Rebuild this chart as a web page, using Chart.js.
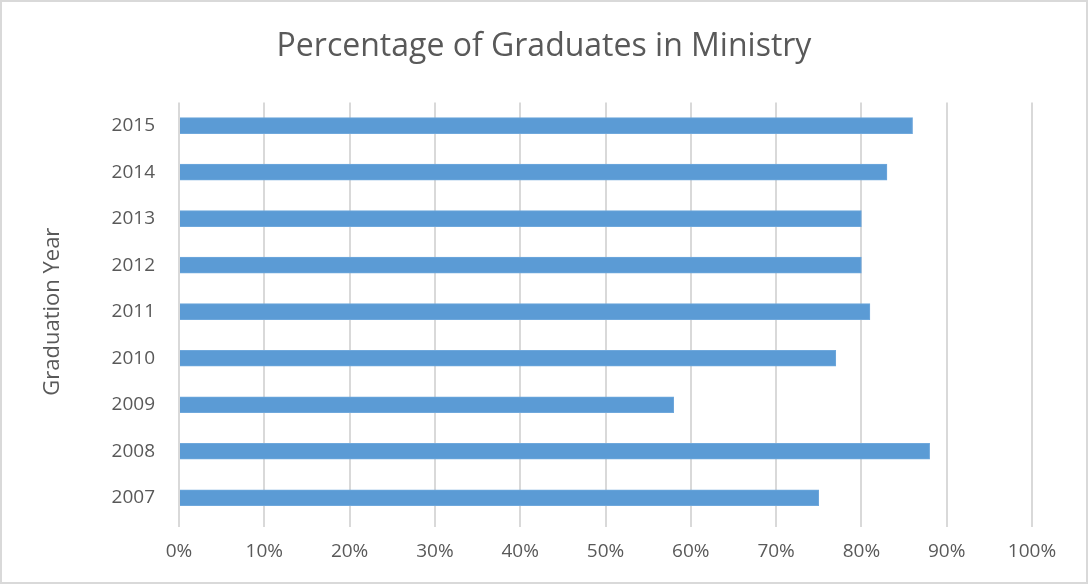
<!DOCTYPE html>
<html>
<head>
<meta charset="utf-8">
<script src="https://cdn.jsdelivr.net/npm/chart.js@4/dist/chart.umd.min.js"></script>
<style>
  html, body { margin: 0; padding: 0; background: #fff; }
  #wrap { position: relative; width: 1084px; height: 580px; border: 2px solid #d9d9d9; }
</style>
</head>
<body>
<div id="wrap"><canvas id="bar_chart" width="1084" height="580"></canvas></div>
<script>
// graduation years, bottom to top as in the picture
var years = ['2007', '2008', '2009', '2010', '2011', '2012', '2013', '2014', '2015'];
var inMinistry = [75, 88, 58, 77, 81, 80, 80, 83, 86];
var chartTitle = 'Percentage of Graduates in Ministry';
var yAxisTitle = 'Graduation Year';

var textColor = '#595959';
var fontFamily = '"Open Sans", "Liberation Sans", sans-serif';

new Chart(document.getElementById('bar_chart').getContext('2d'), {
    type: 'bar',
    data: {
        labels: years,
        datasets: [{
            label: chartTitle,
            data: inMinistry,
            backgroundColor: '#5b9bd5',
            borderColor: '#6fa8dc',
            borderWidth: 1,
            barThickness: 16
        }]
    },
    options: {
        indexAxis: 'y',
        responsive: false,
        animation: false,
        layout: { padding: { left: 54, right: 54, top: 0, bottom: 0 } },
        plugins: {
            legend: { display: false },
            tooltip: { enabled: false },
            title: {
                display: true,
                text: chartTitle,
                color: textColor,
                font: { family: fontFamily, size: 32, weight: 'normal' },
                padding: { top: 26, bottom: 36 }
            }
        },
        scales: {
            x: {
                min: 0,
                max: 100,
                ticks: {
                    stepSize: 10,
                    color: textColor,
                    font: { family: fontFamily, size: 19 },
                    padding: 13,
                    callback: function (v) { return v + '%'; }
                },
                grid: { color: '#d9d9d9', lineWidth: 2, tickLength: 6, drawTicks: true },
                border: { display: false },
                afterFit: function (scale) { scale.height = 61; }
            },
            y: {
                reverse: true,
                ticks: {
                    color: textColor,
                    font: { family: fontFamily, size: 19 },
                    padding: 16
                },
                grid: { display: false },
                border: { display: false },
                title: {
                    display: true,
                    text: yAxisTitle,
                    color: textColor,
                    font: { family: fontFamily, size: 22 },
                    padding: { top: -16, bottom: 0 }
                },
                afterFit: function (scale) { scale.width = 123; }
            }
        }
    }
});
</script>
</body>
</html>
